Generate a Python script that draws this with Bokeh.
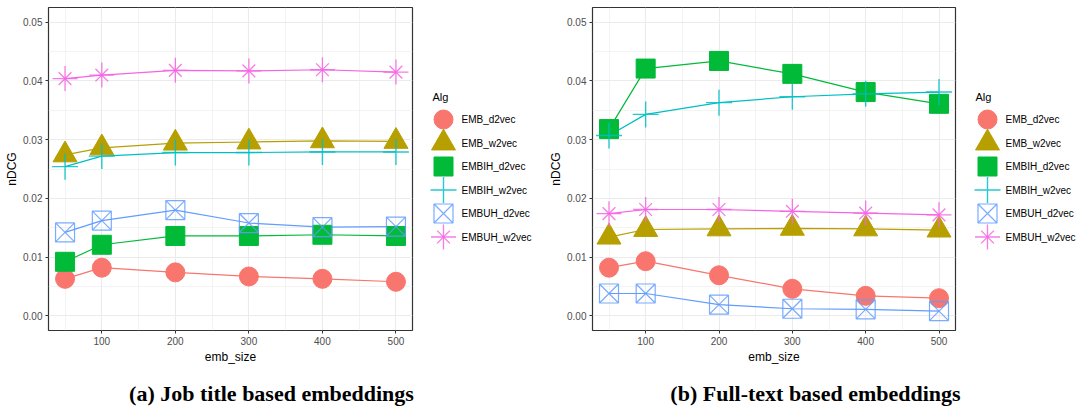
from bokeh.plotting import figure
from bokeh.layouts import row, column
from bokeh.models import Range1d, FixedTicker, PrintfTickFormatter
from bokeh.core.properties import value
from bokeh.embed import file_html
from bokeh.resources import INLINE

# ---------------- data ----------------
emb_size = [50, 100, 200, 300, 400, 500]
algs = ["EMB_d2vec", "EMB_w2vec", "EMBIH_d2vec", "EMBIH_w2vec", "EMBUH_d2vec", "EMBUH_w2vec"]
x_ticks = [100, 200, 300, 400, 500]
x_minor = [50, 150, 250, 350, 450]
y_ticks = [0.00, 0.01, 0.02, 0.03, 0.04, 0.05]
y_minor = [0.005, 0.015, 0.025, 0.035, 0.045]
legend_title = "Alg"
x_label = "emb_size"
y_label = "nDCG"
captions = ["(a) Job title based embeddings", "(b) Full-text based embeddings"]

# (a) Job title based embeddings
a_emb_d2vec = [0.0063, 0.0082, 0.0074, 0.0067, 0.0063, 0.0058]
a_emb_w2vec = [0.0274, 0.0286, 0.0294, 0.0296, 0.0298, 0.0297]
a_embih_d2vec = [0.0092, 0.0121, 0.0136, 0.0136, 0.0138, 0.0136]
a_embih_w2vec = [0.0254, 0.0272, 0.0278, 0.0278, 0.0279, 0.0279]
a_embuh_d2vec = [0.0142, 0.0162, 0.0180, 0.0158, 0.0151, 0.0152]
a_embuh_w2vec = [0.0404, 0.0410, 0.0418, 0.0417, 0.0419, 0.0415]

# (b) Full-text based embeddings
b_emb_d2vec = [0.0082, 0.0093, 0.0069, 0.0046, 0.0034, 0.0030]
b_emb_w2vec = [0.0134, 0.0147, 0.0148, 0.0149, 0.0148, 0.0146]
b_embih_d2vec = [0.0318, 0.0421, 0.0434, 0.0412, 0.0381, 0.0361]
b_embih_w2vec = [0.0307, 0.0343, 0.0363, 0.0373, 0.0378, 0.0381]
b_embuh_d2vec = [0.0038, 0.0038, 0.0019, 0.0012, 0.0011, 0.0008]
b_embuh_w2vec = [0.0174, 0.0181, 0.0181, 0.0178, 0.0175, 0.0172]

series_a = [a_emb_d2vec, a_emb_w2vec, a_embih_d2vec, a_embih_w2vec, a_embuh_d2vec, a_embuh_w2vec]
series_b = [b_emb_d2vec, b_emb_w2vec, b_embih_d2vec, b_embih_w2vec, b_embuh_d2vec, b_embuh_w2vec]

# ---------------- styles ----------------
colors = ["#F8766D", "#B79F00", "#00BA38", "#00BFC4", "#619CFF", "#F564E3"]
# each series: list of (marker, size, filled, line_width)
markers = [
    [("circle", 19, True, 1)],
    [("triangle", 24, True, 1)],
    [("square", 19, True, 1)],
    [("cross", 26, False, 1.4)],
    [("square_x", 19, False, 1.2)],
    [("cross", 25, False, 1.3), ("x", 18, False, 1.3)],
]
SANS = "Liberation Sans"
MAIN_H = 370
TOP = 7
BOTTOM = 40
FRAME_H = MAIN_H - TOP - BOTTOM
CAP_H = 38
X_RANGE = (27.5, 522.5)
Y_RANGE = (-0.0025, 0.0525)


def draw_marks(p, xs, ys, i):
    c = colors[i]
    for (m, s, filled, lw) in markers[i]:
        if filled:
            p.scatter(xs, ys, marker=m, size=s, fill_color=c, line_color=c, line_width=lw)
        else:
            p.scatter(xs, ys, marker=m, size=s, fill_color=None, line_color=c,
                      line_width=lw, line_alpha=0.85)


def main_fig(series, bl, br, frame_w):
    p = figure(width=bl + frame_w + br, height=MAIN_H,
               x_range=Range1d(*X_RANGE), y_range=Range1d(*Y_RANGE),
               output_backend="svg", toolbar_location=None,
               min_border_left=bl, min_border_right=br, min_border_top=TOP,
               min_border_bottom=BOTTOM)
    p.outline_line_color = "#333333"
    p.outline_line_width = 1.2
    p.background_fill_color = "white"
    p.border_fill_color = "white"

    p.xaxis.ticker = FixedTicker(ticks=x_ticks, minor_ticks=x_minor)
    p.yaxis.ticker = FixedTicker(ticks=y_ticks, minor_ticks=y_minor)
    p.yaxis.formatter = PrintfTickFormatter(format="%.2f")
    p.xaxis.axis_label = x_label
    p.yaxis.axis_label = y_label
    for ax in (p.xaxis, p.yaxis):
        ax.axis_line_color = None
        ax.major_tick_line_color = "#333333"
        ax.major_tick_out = 3
        ax.major_tick_in = 0
        ax.minor_tick_line_color = None
        ax.major_label_text_color = "#4D4D4D"
        ax.major_label_text_font = SANS
        ax.major_label_text_font_size = "10px"
        ax.axis_label_text_font = SANS
        ax.axis_label_text_font_size = "12px"
        ax.axis_label_text_font_style = "normal"
        ax.axis_label_text_color = "black"
    p.xaxis.major_label_standoff = 2
    p.xaxis.axis_label_standoff = 2
    p.yaxis.major_label_standoff = 2
    p.yaxis.axis_label_standoff = 1

    for g in (p.xgrid, p.ygrid):
        g.grid_line_color = "#EBEBEB"
        g.grid_line_width = 1.1
        g.minor_grid_line_color = "#EBEBEB"
        g.minor_grid_line_width = 0.6

    for i, ys in enumerate(series):
        p.line(emb_size, ys, line_color=colors[i], line_width=1.2)
    for i, ys in enumerate(series):
        draw_marks(p, emb_size, ys, i)
    return p


def legend_fig(width, title_x, key_x, label_x):
    p = figure(width=width, height=MAIN_H, x_range=Range1d(0, width), y_range=Range1d(0, FRAME_H),
               x_axis_type=None, y_axis_type=None, output_backend="svg",
               toolbar_location=None, min_border_left=0, min_border_right=0,
               min_border_top=TOP, min_border_bottom=BOTTOM)
    p.outline_line_color = None
    p.background_fill_color = "white"
    p.border_fill_color = "white"
    base = TOP + FRAME_H  # pixel row of frame bottom
    p.text([title_x], [base - 96], text=[legend_title], text_font=value(SANS),
           text_font_size="11px", text_baseline="middle", text_align="left", text_color="black")
    for i, name in enumerate(algs):
        ky = base - (119 + 23.5 * i)
        draw_marks(p, [key_x], [ky], i)
        p.text([label_x], [ky], text=[name], text_font=value(SANS),
               text_font_size="10px", text_baseline="middle", text_align="left",
               text_color="black")
    return p


def caption_fig(width, center_x, text):
    p = figure(width=width, height=CAP_H, x_range=Range1d(0, width), y_range=Range1d(0, CAP_H),
               x_axis_type=None, y_axis_type=None, output_backend="svg",
               toolbar_location=None, min_border=0)
    p.outline_line_color = None
    p.background_fill_color = "white"
    p.border_fill_color = "white"
    p.text([center_x], [15.5], text=[text], text_font=value("Liberation Serif"),
           text_font_style="bold", text_font_size="22px", text_baseline="middle",
           text_align="center", text_color="black")
    return p


pa = main_fig(series_a, 48, 8, 364)
la = legend_fig(120, 12, 23, 41)
pb = main_fig(series_b, 52, 7, 363)
lb = legend_fig(114, 13, 25, 43)
ca = caption_fig(540, 271, captions[0])
cb = caption_fig(536, 275, captions[1])

layout = column(row(pa, la, pb, lb), row(ca, cb))
open("out.html", "w").write(file_html(layout, INLINE))
